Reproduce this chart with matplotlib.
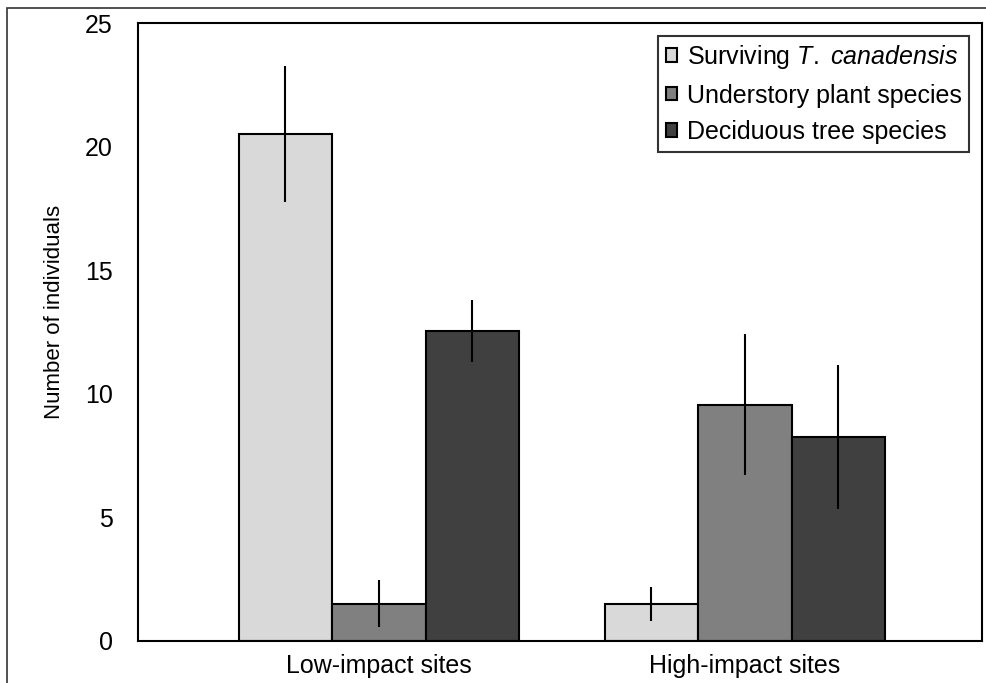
"""
Grouped bar chart: number of individuals at low- and high-impact sites.
"""

import matplotlib.pyplot as plt
import numpy as np
from matplotlib.patches import Rectangle

plt.rcParams["font.family"] = ["Liberation Sans", "DejaVu Sans"]
plt.rcParams["mathtext.fontset"] = "custom"
plt.rcParams["mathtext.rm"] = "Liberation Sans"
plt.rcParams["mathtext.it"] = "Liberation Sans:italic"

sites = ["Low-impact sites", "High-impact sites"]
series = ["Surviving $\\it{T.\\ canadensis}$", "Understory plant species", "Deciduous tree species"]
colors = ["#d9d9d9", "#808080", "#404040"]

means = [
    [20.5, 1.5],   # surviving T. canadensis
    [1.5, 9.55],   # understory plant species
    [12.55, 8.25], # deciduous tree species
]
errors = [
    [2.75, 0.7],
    [0.95, 2.85],
    [1.25, 2.9],
]

fig = plt.figure(figsize=(9.87, 6.83), dpi=100)
ax = fig.add_axes([138 / 987, 1 - 641 / 683, (982 - 138) / 987, (641 - 23) / 683])

x = np.arange(len(sites))
width = 0.2555
for i, (vals, errs) in enumerate(zip(means, errors)):
    ax.bar(x + (i - 1) * width, vals, width, yerr=errs, color=colors[i],
           edgecolor="black", linewidth=1.5, label=series[i],
           error_kw=dict(ecolor="black", elinewidth=1.5, capsize=0))

ax.set_xlim(-0.658, 1.648)
ax.set_ylim(0, 25)
ax.set_yticks([0, 5, 10, 15, 20, 25])
ax.set_xticks(x)
ax.set_xticklabels(sites)
ax.tick_params(axis="both", length=0, labelsize=18)
ax.tick_params(axis="y", pad=18)
ax.tick_params(axis="x", pad=9)
for s in ax.spines.values():
    s.set_linewidth(1.5)
ax.set_ylabel("Number of individuals", fontsize=16)
ax.yaxis.set_label_coords(-0.0865, 0.532)

leg = ax.legend(loc="upper right", fontsize=18, frameon=True, fancybox=False,
                handlelength=0.45, handleheight=0.45, handletextpad=0.4,
                borderaxespad=0.5, labelspacing=0.5, borderpad=0.3)
leg.get_frame().set_edgecolor("black")
leg.get_frame().set_linewidth(1.5)

# thin outer frame around the whole figure
fig.patches.append(Rectangle((7 / 987, -0.1), 1.2, 1.1 - 8 / 683,
                             transform=fig.transFigure, fill=False,
                             edgecolor="#333333", linewidth=1.2))

fig.savefig("out.png", dpi=100)
